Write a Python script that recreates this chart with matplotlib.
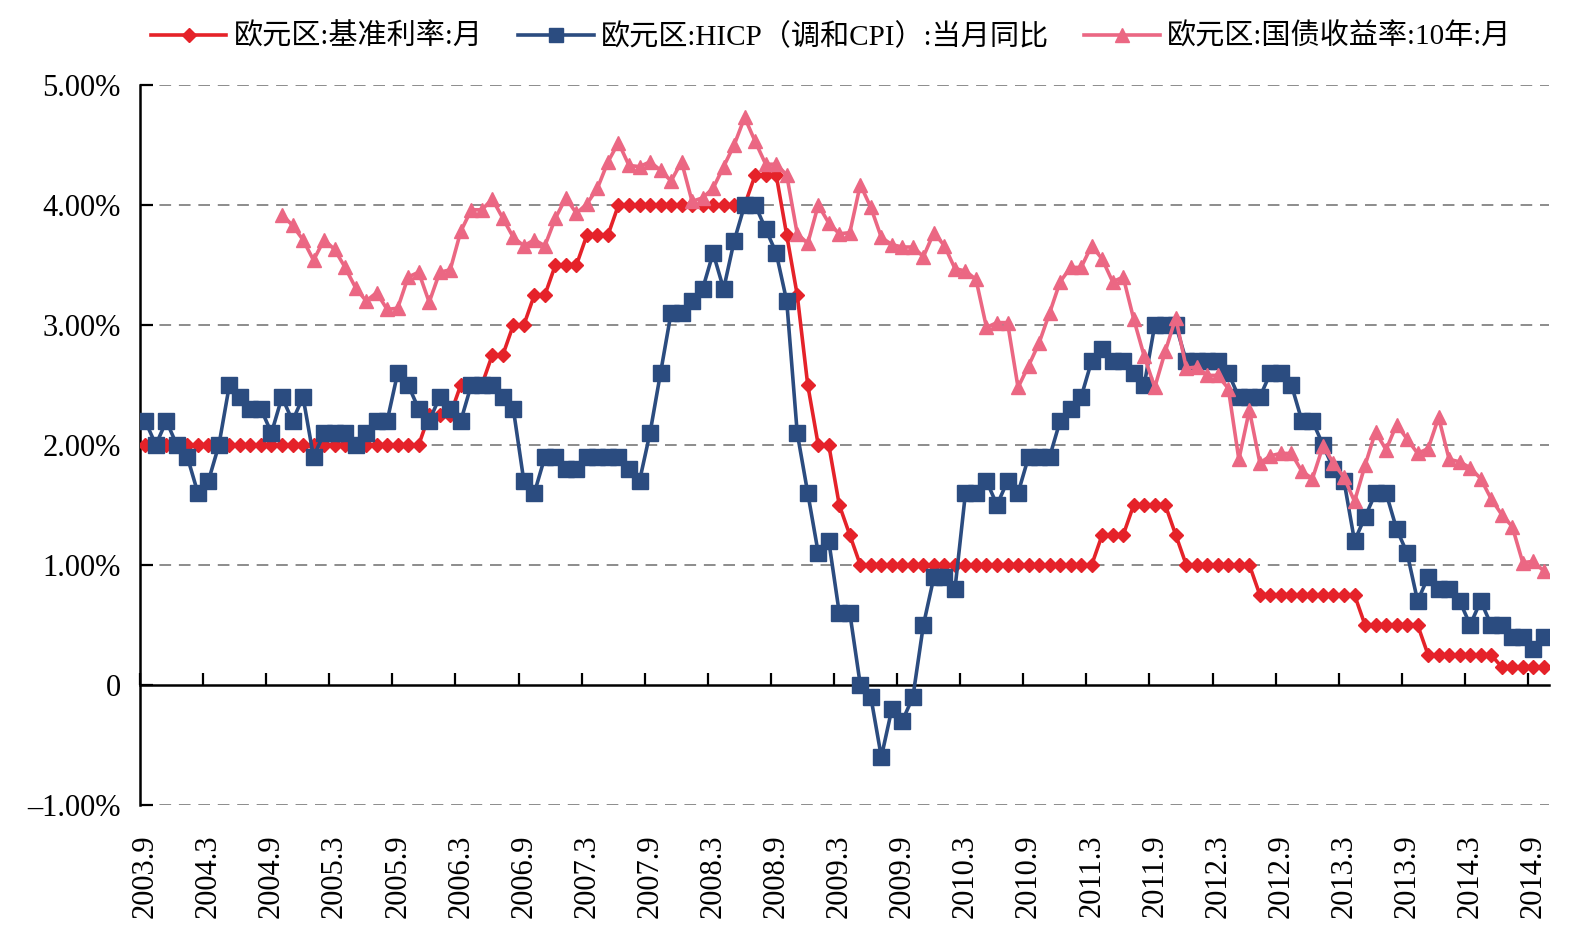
import numpy as np
import matplotlib
matplotlib.use('Agg')
import matplotlib.pyplot as plt

plt.rcParams['font.family'] = ['Liberation Serif', 'Noto Sans CJK SC']
plt.rcParams['axes.unicode_minus'] = False

# 月份类别 2003.9 ~ 2014.10
months = [f"{2003 + (8 + k) // 12}.{(8 + k) % 12 + 1}" for k in range(134)]

# 欧元区:基准利率:月
rate = [
    2.00, 2.00, 2.00, 2.00, 2.00, 2.00, 2.00, 2.00, 2.00, 2.00,
    2.00, 2.00, 2.00, 2.00, 2.00, 2.00, 2.00, 2.00, 2.00, 2.00,
    2.00, 2.00, 2.00, 2.00, 2.00, 2.00, 2.00, 2.25, 2.25, 2.25,
    2.50, 2.50, 2.50, 2.75, 2.75, 3.00, 3.00, 3.25, 3.25, 3.50,
    3.50, 3.50, 3.75, 3.75, 3.75, 4.00, 4.00, 4.00, 4.00, 4.00,
    4.00, 4.00, 4.00, 4.00, 4.00, 4.00, 4.00, 4.00, 4.25, 4.25,
    4.25, 3.75, 3.25, 2.50, 2.00, 2.00, 1.50, 1.25, 1.00, 1.00,
    1.00, 1.00, 1.00, 1.00, 1.00, 1.00, 1.00, 1.00, 1.00, 1.00,
    1.00, 1.00, 1.00, 1.00, 1.00, 1.00, 1.00, 1.00, 1.00, 1.00,
    1.00, 1.25, 1.25, 1.25, 1.50, 1.50, 1.50, 1.50, 1.25, 1.00,
    1.00, 1.00, 1.00, 1.00, 1.00, 1.00, 0.75, 0.75, 0.75, 0.75,
    0.75, 0.75, 0.75, 0.75, 0.75, 0.75, 0.50, 0.50, 0.50, 0.50,
    0.50, 0.50, 0.25, 0.25, 0.25, 0.25, 0.25, 0.25, 0.25, 0.15,
    0.15, 0.15, 0.15, 0.15,
]

# 欧元区:HICP(调和CPI):当月同比
hicp = [
    2.2, 2.0, 2.2, 2.0, 1.9, 1.6, 1.7, 2.0, 2.5, 2.4,
    2.3, 2.3, 2.1, 2.4, 2.2, 2.4, 1.9, 2.1, 2.1, 2.1,
    2.0, 2.1, 2.2, 2.2, 2.6, 2.5, 2.3, 2.2, 2.4, 2.3,
    2.2, 2.5, 2.5, 2.5, 2.4, 2.3, 1.7, 1.6, 1.9, 1.9,
    1.8, 1.8, 1.9, 1.9, 1.9, 1.9, 1.8, 1.7, 2.1, 2.6,
    3.1, 3.1, 3.2, 3.3, 3.6, 3.3, 3.7, 4.0, 4.0, 3.8,
    3.6, 3.2, 2.1, 1.6, 1.1, 1.2, 0.6, 0.6, 0.0, -0.1,
    -0.6, -0.2, -0.3, -0.1, 0.5, 0.9, 0.9, 0.8, 1.6, 1.6,
    1.7, 1.5, 1.7, 1.6, 1.9, 1.9, 1.9, 2.2, 2.3, 2.4,
    2.7, 2.8, 2.7, 2.7, 2.6, 2.5, 3.0, 3.0, 3.0, 2.7,
    2.7, 2.7, 2.7, 2.6, 2.4, 2.4, 2.4, 2.6, 2.6, 2.5,
    2.2, 2.2, 2.0, 1.8, 1.7, 1.2, 1.4, 1.6, 1.6, 1.3,
    1.1, 0.7, 0.9, 0.8, 0.8, 0.7, 0.5, 0.7, 0.5, 0.5,
    0.4, 0.4, 0.3, 0.4,
]

# 欧元区:国债收益率:10年:月 (从2004.10开始)
bond = [np.nan] * 13 + [
    3.92, 3.83, 3.71, 3.54, 3.71, 3.63, 3.48,
    3.31, 3.20, 3.27, 3.13, 3.14, 3.40, 3.44, 3.19, 3.44, 3.46,
    3.78, 3.96, 3.96, 4.05, 3.89, 3.73, 3.66, 3.71, 3.66, 3.89,
    4.06, 3.93, 4.01, 4.14, 4.36, 4.52, 4.33, 4.32, 4.36, 4.29,
    4.20, 4.36, 4.03, 4.06, 4.14, 4.32, 4.50, 4.73, 4.53, 4.34,
    4.34, 4.25, 3.76, 3.68, 4.00, 3.85, 3.76, 3.77, 4.17, 3.98,
    3.73, 3.67, 3.65, 3.65, 3.57, 3.77, 3.66, 3.47, 3.45, 3.38,
    2.98, 3.02, 3.02, 2.48, 2.66, 2.85, 3.10, 3.36, 3.48, 3.48,
    3.66, 3.55, 3.36, 3.40, 3.05, 2.74, 2.48, 2.78, 3.06, 2.64,
    2.65, 2.58, 2.58, 2.47, 1.88, 2.29, 1.85, 1.91, 1.93, 1.93,
    1.78, 1.72, 1.99, 1.85, 1.73, 1.53, 1.83, 2.11, 1.96, 2.17,
    2.05, 1.93, 1.97, 2.23, 1.88, 1.86, 1.81, 1.72, 1.55, 1.42,
    1.32, 1.02, 1.03, 0.95,
]

yticks = [-1, 0, 1, 2, 3, 4, 5]
ylabels = ['–1.00%', '0', '1.00%', '2.00%', '3.00%', '4.00%', '5.00%']

red = '#E52229'
blue = '#2B4C80'
pink = '#EB6783'

x = np.arange(len(months))

fig = plt.figure(figsize=(15.86, 9.47), dpi=100)
ax = fig.add_axes([0.0883, 0.15, 0.8884, 0.7602])

ax.plot(x, rate, color=red, lw=2.6, marker='D', ms=7.5, mec=red, mfc=red,
        label='欧元区:基准利率:月', zorder=3)
ax.plot(x, hicp, color=blue, lw=2.6, marker='s', ms=11, mec=blue, mfc=blue,
        label='欧元区:HICP（调和CPI）:当月同比', zorder=4)
ax.plot(x, bond, color=pink, lw=2.6, marker='^', ms=10.5, mec=pink, mfc=pink,
        label='欧元区:国债收益率:10年:月', zorder=5)

ax.set_xlim(-0.5, len(months) - 0.5)
ax.set_ylim(-1, 5)

# 网格线
for v in yticks:
    if v != 0:
        ax.axhline(v, color='#8c8c8c', lw=1.4, ls=(0, (6, 4)), zorder=1)

ax.spines['top'].set_visible(False)
ax.spines['right'].set_visible(False)
ax.spines['bottom'].set_visible(False)
ax.spines['left'].set_linewidth(1.8)

ax.set_yticks(yticks)
ax.set_yticklabels(ylabels, fontsize=22)
ax.tick_params(axis='y', direction='in', length=9, width=1.6, pad=14)

# x轴标签放在底部
ax.set_xticks(x[::6])
ax.set_xticklabels(months[::6], rotation=90, fontsize=22)
ax.tick_params(axis='x', length=0, pad=21)

# 0值处的横轴和刻度线
sec = ax.secondary_xaxis(0, transform=ax.transData)
sec.spines['bottom'].set_linewidth(1.8)
sec.set_xticks(x[::6] - 0.5)
sec.set_xticklabels([])
sec.tick_params(axis='x', direction='in', length=9, width=1.6)

fig.legend(loc='center', bbox_to_anchor=(0.524, 0.961), ncol=3, frameon=False,
           fontsize=21, handlelength=2.6, handletextpad=0.25, columnspacing=1.2,
           markerscale=0.9)

fig.savefig('out.png', dpi=100)
